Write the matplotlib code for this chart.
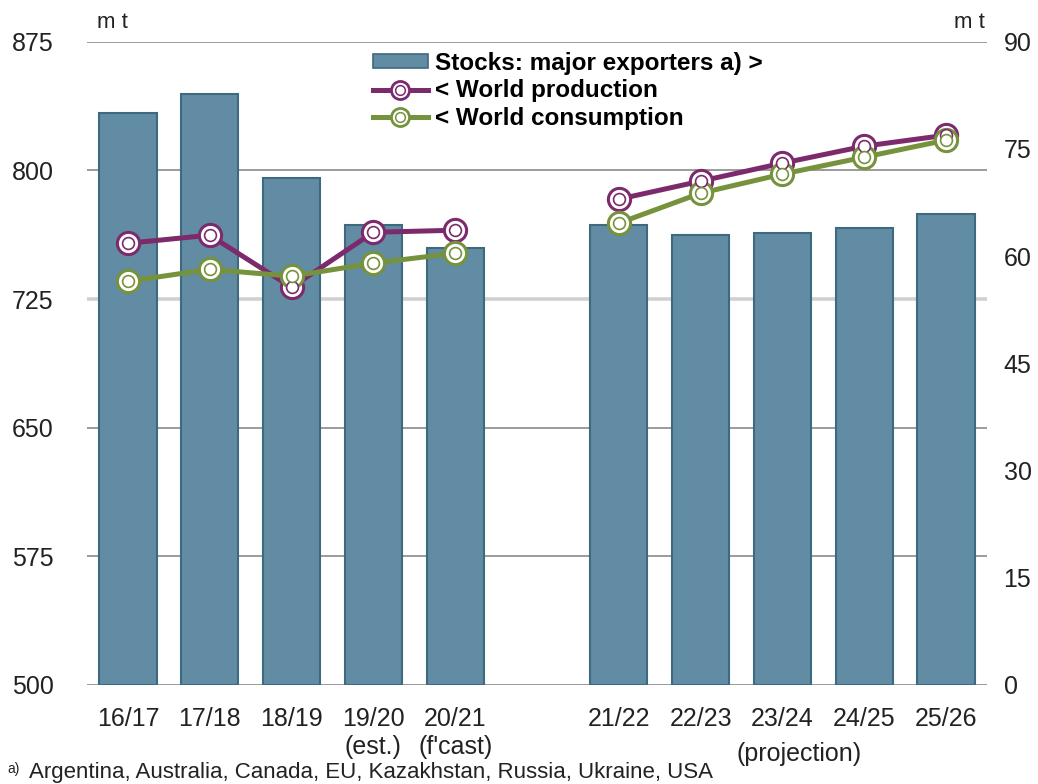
import matplotlib
matplotlib.use("Agg")
import matplotlib.pyplot as plt
from matplotlib.lines import Line2D
from matplotlib.patches import Patch
import numpy as np

plt.rcParams['font.family'] = ['Liberation Sans', 'DejaVu Sans']

# ---- data ----
categories = ["16/17", "17/18", "18/19", "19/20\n(est.)", "20/21\n(f'cast)",
              "21/22", "22/23", "23/24", "24/25", "25/26"]
stocks = [80.0, 82.7, 71.0, 64.3, 61.2, 64.3, 62.9, 63.2, 63.9, 65.9]
production = [757.5, 762.2, 731.8, 763.9, 765.1, 783.2, 793.7, 804.2, 814.1, 820.5]
consumption = [735.3, 742.3, 738.3, 745.9, 751.7, 769.2, 786.7, 797.8, 807.7, 817.6]
left_ticks = [500, 575, 650, 725, 800, 875]
right_ticks = [0, 15, 30, 45, 60, 75, 90]
footnote = "Argentina, Australia, Canada, EU, Kazakhstan, Russia, Ukraine, USA"

# positions: one empty slot between the two groups
pos = np.array([0, 1, 2, 3, 4, 6, 7, 8, 9, 10])
hist = slice(0, 5)
proj = slice(5, 10)

bar_col = "#618CA3"
bar_edge = "#3E6A80"
prod_col = "#7D2A6C"
cons_col = "#76923C"

fig = plt.figure(figsize=(10.38, 7.84), dpi=100)
rect = [0.0838, 0.1263, 0.867, 0.8205]

ax = fig.add_axes(rect)            # left scale, grid
ax.set_ylim(500, 875)
ax.set_xlim(-0.5, 10.5)
for v in left_ticks:
    if v == 725:
        ax.axhline(v, color="#D0D0D0", lw=2.6, zorder=0)
    else:
        ax.axhline(v, color="#8A8A8A", lw=1.2, zorder=0)
ax.set_yticks(left_ticks)
ax.set_yticklabels([str(t) for t in left_ticks], fontsize=18, color="#222222")
ax.tick_params(axis='y', length=0, pad=24)
ax.set_xticks(pos)
ax.set_xticklabels(categories, fontsize=18, color="#222222", linespacing=1.2,
                   va='top')
ax.tick_params(axis='x', length=0, pad=16)
for s in ax.spines.values():
    s.set_visible(False)

ax2 = ax.twinx()                   # right scale, bars
ax2.set_ylim(0, 90)
ax2.bar(pos, stocks, width=0.7, color=bar_col, edgecolor=bar_edge, linewidth=1.5,
        zorder=2)
ax2.set_yticks(right_ticks)
ax2.set_yticklabels([str(t) for t in right_ticks], fontsize=18, color="#222222")
ax2.tick_params(axis='y', length=0, pad=12)
for s in ax2.spines.values():
    s.set_visible(False)

ax3 = fig.add_axes(rect, sharex=ax, sharey=ax)   # lines on top
ax3.set_axis_off()


def draw_series(x, y, col):
    ax3.plot(x, y, color=col, lw=3.6, solid_capstyle='round', zorder=3)
    ax3.plot(x, y, ls='none', marker='o', ms=16, mfc='white', mec=col, mew=2.2, zorder=4)
    ax3.plot(x, y, ls='none', marker='o', ms=8.5, mfc='white', mec=col, mew=1.2, zorder=5)


for sl in (hist, proj):
    draw_series(pos[sl], production[sl], prod_col)
    draw_series(pos[sl], consumption[sl], cons_col)

# "m t" unit labels
fig.text(0.0935, 0.958, "m t", fontsize=16, color="#222222", ha='left', va='bottom')
fig.text(0.949, 0.958, "m t", fontsize=16, color="#222222", ha='right', va='bottom')

# projection note
ax.text(8.2, -0.088, "(projection)", transform=ax.get_xaxis_transform(),
        fontsize=18, color="#222222", ha='center', va='top')

# footnote
fig.text(0.007, 0.010, "a)", fontsize=10, color="#222222", ha='left', va='bottom')
fig.text(0.028, 0.001, footnote, fontsize=16, color="#222222", ha='left', va='bottom')

# legend
def mk(col):
    return (Line2D([], [], color=col, lw=3.6, marker='o', ms=13, mfc='white', mec=col, mew=2),
            Line2D([], [], ls='none', marker='o', ms=7, mfc='white', mec=col, mew=1.1))

handles = [Patch(facecolor=bar_col, edgecolor=bar_edge, linewidth=1.2),
           mk(prod_col), mk(cons_col)]
labels = ["Stocks: major exporters a) >", "< World production", "< World consumption"]
leg = fig.legend(handles, labels, loc='upper left', bbox_to_anchor=(0.343, 0.956),
                 frameon=False, prop={'weight': 'bold', 'size': 17.5},
                 handlelength=2.25, handleheight=0.5, handletextpad=0.3,
                 labelspacing=0.2, borderpad=0.2)

fig.savefig("out.png", dpi=100)
